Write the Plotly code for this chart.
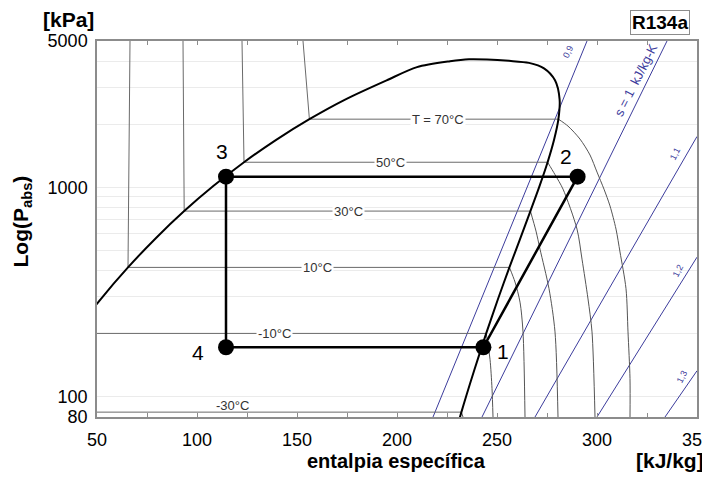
import math
import plotly.graph_objects as go

# ---------------- data ----------------
# saturation table R134a (ASHRAE reference), T [°C], P [kPa], h [kJ/kg]
sat_T = [-40, -30, -20, -10, 0, 10, 20, 30, 40, 50, 60, 70, 80, 90]
sat_P = [51.2, 84.4, 132.7, 200.6, 292.8, 414.6, 571.7, 770.2, 1016.6, 1317.9,
         1681.8, 2116.8, 2633.0, 3244.0]
sat_hf = [0.0, 12.3, 25.5, 38.6, 51.9, 65.5, 79.4, 93.6, 108.3, 123.5,
          139.4, 156.2, 174.3, 194.8]
sat_hg = [225.9, 232.2, 238.5, 244.6, 250.5, 256.2, 261.7, 266.7, 271.3, 275.3,
          278.5, 280.7, 281.3, 279.0]
# rounded top of the dome (liquid side -> vapour side)
top_h = [210.0, 226.5, 236.0, 245.0, 256.0, 266.0, 273.5]
top_P = [3750, 4000, 4090, 4080, 4020, 3930, 3700]

# drawn isotherms
iso_T = [70, 50, 30, 10, -10, -30]
iso_labels = ["T = 70°C", "50°C", "30°C", "10°C", "-10°C", "-30°C"]
iso_label_h = [220.7, 196.5, 175.5, 160.0, 138.5, 117.5]
# liquid-region end at the top of the chart (P = 5000)
iso_liq_top_h = {70: 153.0, 50: 122.5, 30: 93.0, 10: 66.5}
# superheated vapour branches (h, P)
iso_vap_h = {
    70: [280.7, 285.5, 291.5, 296.5, 300.0, 303.5, 306.5, 309.5, 311.5, 314.5, 315.5, 316.5, 316.5],
    50: [275.3, 279.0, 283.0, 290.0, 292.5, 295.5, 297.5, 299.0],
    30: [266.7, 269.5, 271.5, 276.0, 279.0, 280.5],
    10: [256.2, 259.0, 261.5, 263.0, 264.0],
    -10: [244.6, 246.5, 247.5, 248.0],
    -30: [232.2, 233.0],
}
iso_vap_P = {
    70: [2116.8, 1961, 1700, 1427, 1183, 980, 815, 632, 491, 328, 204, 122, 80],
    50: [1317.9, 1150, 981, 632, 454, 293, 204, 80],
    30: [770.2, 618, 507, 328, 204, 80],
    10: [414.6, 353, 283, 204, 80],
    -10: [200.6, 151, 109.5, 80],
    -30: [84.4, 80],
}

# isentropes s [kJ/kg-K]: (h, P) end points
s_vals = [0.9, 1.0, 1.1, 1.2, 1.3]
s_h = {0.9: [218.0, 295.0], 1.0: [242.5, 335.0], 1.1: [269.0, 350.0],
       1.2: [300.0, 350.0], 1.3: [334.0, 350.0]}
s_P = {0.9: [80, 5000], 1.0: [80, 5000], 1.1: [80, 1750],
       1.2: [80, 464], 1.3: [80, 133]}
s_labels = ["0,9", "s = 1  kJ/kg-K", "1,1", "1,2", "1,3"]
s_label_h = [285.5, 319.5, 339.0, 340.5, 342.5]
s_label_P = [4427, 3221, 1442, 398, 124]

# refrigeration cycle points 1-4
cyc_names = ["1", "2", "3", "4"]
cyc_h = [243.2, 290.3, 114.5, 114.5]
cyc_P = [172.3, 1125.0, 1125.0, 172.3]

x_ticks = [50, 100, 150, 200, 250, 300, 350]
y_ticks = [80, 100, 1000, 5000]
y_grid = [200, 300, 400, 500, 600, 700, 800, 900, 2000, 3000, 4000]

FONT = "Liberation Sans, Arial, sans-serif"
BLUE = "#3c3c9c"
lg = math.log10
fig = go.Figure()

# isentropes
for s in s_vals:
    fig.add_trace(go.Scatter(x=s_h[s], y=s_P[s], mode="lines",
                             line=dict(color=BLUE, width=1), hoverinfo="skip"))

# isotherms
for T in iso_T:
    i = sat_T.index(T)
    xs, ys = [], []
    if T in iso_liq_top_h:
        xs.append(iso_liq_top_h[T]); ys.append(5000)
    xs += [sat_hf[i], sat_hg[i]]
    ys += [sat_P[i], sat_P[i]]
    fig.add_trace(go.Scatter(x=xs, y=ys, mode="lines",
                             line=dict(color="#6a6a6a", width=1), hoverinfo="skip"))
    fig.add_trace(go.Scatter(x=iso_vap_h[T], y=iso_vap_P[T], mode="lines",
                             line=dict(color="#555555", width=1, shape="spline", smoothing=0.8),
                             hoverinfo="skip"))

# saturation dome
dome_h = sat_hf + top_h + sat_hg[::-1]
dome_P = sat_P + top_P + sat_P[::-1]
fig.add_trace(go.Scatter(x=dome_h, y=dome_P, mode="lines",
                         line=dict(color="black", width=2, shape="spline", smoothing=0.8),
                         hoverinfo="skip"))

# cycle
loop_h = cyc_h + [cyc_h[0]]
loop_P = cyc_P + [cyc_P[0]]
fig.add_trace(go.Scatter(x=loop_h, y=loop_P, mode="lines",
                         line=dict(color="black", width=2.5), hoverinfo="skip"))
fig.add_trace(go.Scatter(x=cyc_h, y=cyc_P, mode="markers",
                         marker=dict(color="black", size=16), hoverinfo="skip"))

ann = []
# isotherm labels
for T, lab, h in zip(iso_T, iso_labels, iso_label_h):
    i = sat_T.index(T)
    ann.append(dict(x=h, y=lg(sat_P[i]), xref="x", yref="y", text=lab, showarrow=False,
                    xanchor="center", yanchor="middle",
                    font=dict(family=FONT, size=13, color="#333333"),
                    bgcolor="white" if T != -30 else "rgba(0,0,0,0)",
                    borderpad=1, yshift=7 if T == -30 else 0))
# isentrope labels
for lab, h, P, s in zip(s_labels, s_label_h, s_label_P, s_vals):
    ann.append(dict(x=h, y=lg(P), xref="x", yref="y", text=lab, showarrow=False,
                    xanchor="center", yanchor="middle", textangle=-63,
                    font=dict(family=FONT, size=13 if s == 1.0 else 9, color=BLUE)))
# cycle point labels
shifts = {"1": (20, -4), "2": (-12, 20), "3": (-4, 25), "4": (-28, -5)}
for n, h, P in zip(cyc_names, cyc_h, cyc_P):
    ann.append(dict(x=h, y=lg(P), xref="x", yref="y", text=n, showarrow=False,
                    xanchor="center", yanchor="middle",
                    xshift=shifts[n][0], yshift=shifts[n][1],
                    font=dict(family=FONT, size=21, color="black")))
# titles
title_font = dict(family=FONT, size=20, color="black")
ann += [
    dict(x=-0.125, y=0.52, xref="paper", yref="paper", text="<b>Log(P<sub>abs</sub>)</b>",
         textangle=-90, showarrow=False, xanchor="center", yanchor="middle",
         font=dict(family=FONT, size=21, color="black")),
    dict(x=-0.048, y=1.058, xref="paper", yref="paper", text="<b>[kPa]</b>",
         showarrow=False, xanchor="center", yanchor="middle",
         font=dict(family=FONT, size=21, color="black")),
    dict(x=0.499, y=-0.117, xref="paper", yref="paper", text="<b>entalpia específica</b>",
         showarrow=False, xanchor="center", yanchor="middle", font=title_font),
    dict(x=0.955, y=-0.117, xref="paper", yref="paper", text="<b>[kJ/kg]</b>",
         showarrow=False, xanchor="center", yanchor="middle",
         font=dict(family=FONT, size=21, color="black")),
    dict(x=0.938, y=1.05, xref="paper", yref="paper", text="<b>R134a</b>",
         showarrow=False, xanchor="center", yanchor="middle",
         font=dict(family=FONT, size=19, color="black"),
         bordercolor="#8c8c8c", borderwidth=1, borderpad=1, bgcolor="white"),
]

# the page body has an 8px margin: plot area lands at x 97-697, y 41-417 on screen
fig.update_layout(
    width=702, height=465,
    margin=dict(l=89, r=13, t=33, b=56, autoexpand=False),
    paper_bgcolor="white", plot_bgcolor="white",
    showlegend=False,
    annotations=ann,
    font=dict(family=FONT, size=18, color="black"),
)
fig.update_xaxes(range=[50, 350], tickvals=x_ticks, ticks="inside", ticklen=4,
                 tickcolor="#8c8c8c", mirror="ticks", showline=True, linecolor="#8c8c8c",
                 linewidth=1.5, showgrid=False, zeroline=False, ticklabelstandoff=6,
                 ticklabeloverflow="allow",
                 minor=dict(dtick=25, ticks="inside", ticklen=4, tickcolor="#8c8c8c", showgrid=False),
                 tickfont=dict(family=FONT, size=18, color="black"))
fig.update_yaxes(type="log", range=[lg(80), lg(5000)], tickvals=y_ticks, ticks="",
                 showline=True, mirror=True, linecolor="#8c8c8c", linewidth=1.5,
                 showgrid=True, gridcolor="#ebebeb", gridwidth=1, zeroline=False,
                 minor=dict(tickvals=y_grid, showgrid=True, gridcolor="#ebebeb", ticks=""),
                 ticklabelstandoff=4, ticklabeloverflow="allow",
                 tickfont=dict(family=FONT, size=18, color="black"))

fig.write_html("out.html")
